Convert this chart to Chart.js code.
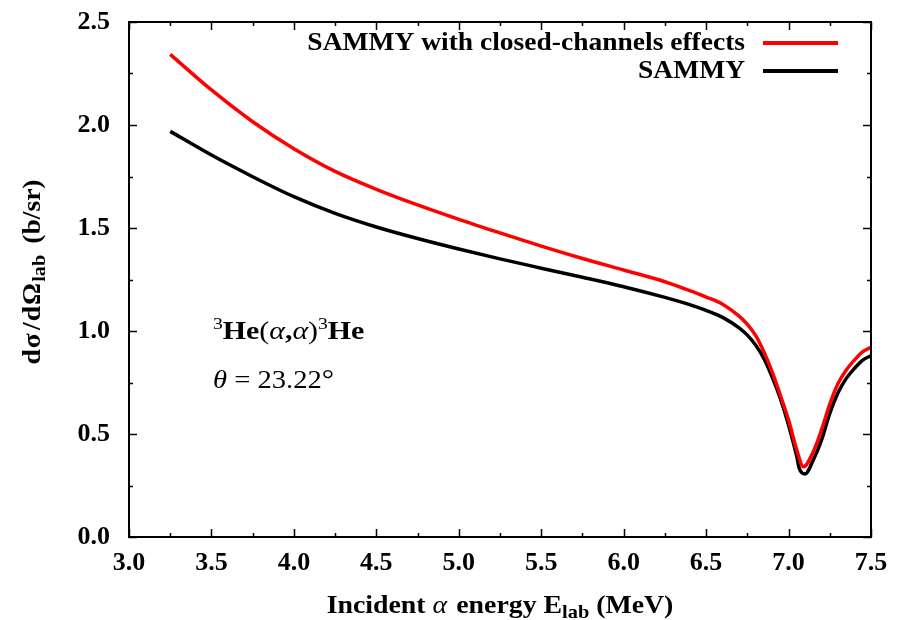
<!DOCTYPE html>
<html>
<head>
<meta charset="utf-8">
<script src="https://cdn.jsdelivr.net/npm/chart.js@4.4.0/dist/chart.umd.min.js"></script>
<style>
  html, body { margin: 0; padding: 0; background: #fff; }
  #wrap { width: 906px; height: 620px; }
</style>
</head>
<body>
<div id="wrap"><canvas id="xsec" width="906" height="620"></canvas></div>
<script>
// energies (MeV) and cross sections (b/sr)
const energyClosed = [3.25, 3.5, 3.75, 4.0, 4.25, 4.5, 4.75, 5.0, 5.25, 5.5, 5.75, 6.0, 6.25, 6.4, 6.5, 6.6, 6.7, 6.75, 6.8, 6.85, 6.9, 6.95, 7.0, 7.05, 7.09, 7.15, 7.2, 7.25, 7.3, 7.35, 7.4, 7.45, 7.5]
const sigmaClosed = [2.343, 2.170, 2.016, 1.885, 1.775, 1.688, 1.612, 1.542, 1.476, 1.412, 1.352, 1.296, 1.239, 1.196, 1.165, 1.130, 1.072, 1.032, 0.979, 0.900, 0.803, 0.689, 0.568, 0.422, 0.341, 0.414, 0.520, 0.645, 0.745, 0.811, 0.859, 0.900, 0.921]

const energySammy = [3.25, 3.5, 3.75, 4.0, 4.25, 4.5, 4.75, 5.0, 5.25, 5.5, 5.75, 6.0, 6.25, 6.4, 6.5, 6.6, 6.7, 6.75, 6.8, 6.85, 6.9, 6.95, 7.0, 7.05, 7.065, 7.1, 7.15, 7.2, 7.25, 7.3, 7.35, 7.4, 7.45, 7.5]
const sigmaSammy = [1.969, 1.854, 1.749, 1.652, 1.571, 1.505, 1.449, 1.398, 1.350, 1.305, 1.261, 1.215, 1.163, 1.128, 1.100, 1.066, 1.015, 0.980, 0.932, 0.867, 0.778, 0.673, 0.544, 0.390, 0.333, 0.306, 0.374, 0.470, 0.600, 0.700, 0.770, 0.819, 0.859, 0.880]

const seriesLabels = ['SAMMY with closed-channels effects', 'SAMMY']
const seriesColors = ['#ff0000', '#000000']

const X_MIN = 3.0, X_MAX = 7.5, Y_MIN = 0.0, Y_MAX = 2.5
const MAJOR = 0.5, MINOR = 0.25

const SERIF = '"Liberation Serif", "Times New Roman", serif'

const toPoints = (xs, ys) => xs.map((x, i) => ({ x: x, y: ys[i] }))

// draws a run of text pieces with their own fonts and vertical shifts,
// sx stretches the whole run sideways
const drawRuns = (ctx, runs, x, y, align, sx) => {
  sx = sx || 1
  let total = 0
  runs.forEach(r => { ctx.font = r.font; total += ctx.measureText(r.text).width + (r.gap || 0) })
  let cx = align === 'center' ? -total / 2 : (align === 'right' ? -total : 0)
  ctx.save()
  ctx.translate(x, y)
  ctx.scale(sx, 1)
  ctx.textAlign = 'left'
  ctx.textBaseline = 'alphabetic'
  runs.forEach(r => {
    ctx.font = r.font
    ctx.fillText(r.text, cx, r.dy || 0)
    cx += ctx.measureText(r.text).width + (r.gap || 0)
  })
  ctx.restore()
}

const B = (px) => 'bold ' + px + 'px ' + SERIF
const R = (px) => px + 'px ' + SERIF
const I = (px) => 'italic ' + px + 'px ' + SERIF

// box around the plot with inward ticks on every side
const frameTicks = {
  id: 'frameTicks',
  afterDatasetsDraw(chart) {
    const ctx = chart.ctx
    const a = chart.chartArea
    const xs = chart.scales.x, ys = chart.scales.y
    ctx.save()
    ctx.strokeStyle = '#000'
    ctx.lineWidth = 1.5
    ctx.beginPath()
    for (let v = X_MIN; v <= X_MAX + 1e-9; v += MINOR) {
      const px = Math.round(xs.getPixelForValue(v)) + 0.5
      const len = Math.abs(v / MAJOR - Math.round(v / MAJOR)) < 1e-6 ? 8 : 4
      ctx.moveTo(px, a.bottom); ctx.lineTo(px, a.bottom - len)
      ctx.moveTo(px, a.top); ctx.lineTo(px, a.top + len)
    }
    for (let v = Y_MIN; v <= Y_MAX + 1e-9; v += MINOR) {
      const py = Math.round(ys.getPixelForValue(v)) + 0.5
      const len = Math.abs(v / MAJOR - Math.round(v / MAJOR)) < 1e-6 ? 8 : 4
      ctx.moveTo(a.left, py); ctx.lineTo(a.left + len, py)
      ctx.moveTo(a.right, py); ctx.lineTo(a.right - len, py)
    }
    ctx.stroke()
    ctx.lineWidth = 2
    ctx.strokeRect(a.left, a.top, a.right - a.left, a.bottom - a.top)
    ctx.restore()
  }
}

// key in the top right corner, label first then line sample
const keyBox = {
  id: 'keyBox',
  afterDraw(chart) {
    const ctx = chart.ctx
    const a = chart.chartArea
    ctx.save()
    ctx.fillStyle = '#000'
    chart.data.datasets.forEach((ds, i) => {
      const yLine = a.top + 21 + i * 28
      drawRuns(ctx, [{ text: ds.label, font: B(25) }], a.right - 126, yLine + 7, 'right', 1.1)
      ctx.strokeStyle = ds.borderColor
      ctx.lineWidth = 4
      ctx.beginPath()
      ctx.moveTo(a.right - 108, yLine)
      ctx.lineTo(a.right - 33, yLine)
      ctx.stroke()
    })
    ctx.restore()
  }
}

// reaction label, angle and both axis titles
const labels = {
  id: 'labels',
  afterDraw(chart) {
    const ctx = chart.ctx
    const a = chart.chartArea
    ctx.save()
    ctx.fillStyle = '#000'
    drawRuns(ctx, [
      { text: '3', font: R(17), dy: -10 },
      { text: 'He', font: B(26) },
      { text: '(', font: R(26) },
      { text: 'α', font: I(26) },
      { text: ',', font: B(26) },
      { text: 'α', font: I(26) },
      { text: ')', font: R(26) },
      { text: '3', font: R(17), dy: -10 },
      { text: 'He', font: B(26) }
    ], 213, 339, 'left', 1.15)
    drawRuns(ctx, [
      { text: 'θ', font: I(26) },
      { text: ' = 23.22', font: R(26) },
      { text: '°', font: R(28) }
    ], 213, 388, 'left', 1.1)

    drawRuns(ctx, [
      { text: 'Incident ', font: B(26) },
      { text: 'α', font: I(26), gap: 2 },
      { text: ' energy E', font: B(26) },
      { text: 'lab', font: B(19), dy: 5 },
      { text: ' (MeV)', font: B(26) }
    ], (a.left + a.right) / 2, 613, 'center', 1.07)

    ctx.translate(40, 272)
    ctx.rotate(-Math.PI / 2)
    drawRuns(ctx, [
      { text: 'd', font: B(26), gap: 1 },
      { text: 'σ', font: B(26), gap: 3 },
      { text: '/', font: B(26), gap: 1 },
      { text: 'd', font: B(26), gap: 1 },
      { text: 'Ω', font: B(26), gap: 1 },
      { text: 'lab', font: B(19), dy: 5, gap: 4 },
      { text: ' (b/sr)', font: B(26) }
    ], 0, 0, 'center', 1.06)
    ctx.restore()
  }
}

const ctxX = document.getElementById('xsec')
new Chart(ctxX, {
  type: 'line',
  data: {
    datasets: [
      {
        label: seriesLabels[0],
        data: toPoints(energyClosed, sigmaClosed),
        borderColor: seriesColors[0],
        borderWidth: 3.5,
        pointRadius: 0,
        fill: false,
        cubicInterpolationMode: 'monotone'
      },
      {
        label: seriesLabels[1],
        data: toPoints(energySammy, sigmaSammy),
        borderColor: seriesColors[1],
        borderWidth: 3.5,
        pointRadius: 0,
        fill: false,
        cubicInterpolationMode: 'monotone'
      }
    ]
  },
  options: {
    responsive: false,
    animation: false,
    devicePixelRatio: 1,
    layout: { padding: { top: 22, right: 35, left: 0, bottom: 0 } },
    plugins: { legend: { display: false }, tooltip: { enabled: false } },
    scales: {
      x: {
        type: 'linear',
        min: X_MIN, max: X_MAX,
        grid: { display: false, drawTicks: false },
        border: { display: false },
        ticks: {
          stepSize: MAJOR, padding: 11, color: '#000',
          font: { family: SERIF, size: 26, weight: 'bold' },
          callback: v => v.toFixed(1)
        },
        afterFit: s => { s.height = 83; s.paddingLeft = 0; s.paddingRight = 0 }
      },
      y: {
        min: Y_MIN, max: Y_MAX,
        grid: { display: false, drawTicks: false },
        border: { display: false },
        ticks: {
          stepSize: MAJOR, padding: 19, color: '#000',
          font: { family: SERIF, size: 26, weight: 'bold' },
          callback: v => v.toFixed(1)
        },
        afterFit: s => { s.width = 129; s.paddingTop = 0; s.paddingBottom = 0 }
      }
    }
  },
  plugins: [frameTicks, keyBox, labels]
})
</script>
</body>
</html>
